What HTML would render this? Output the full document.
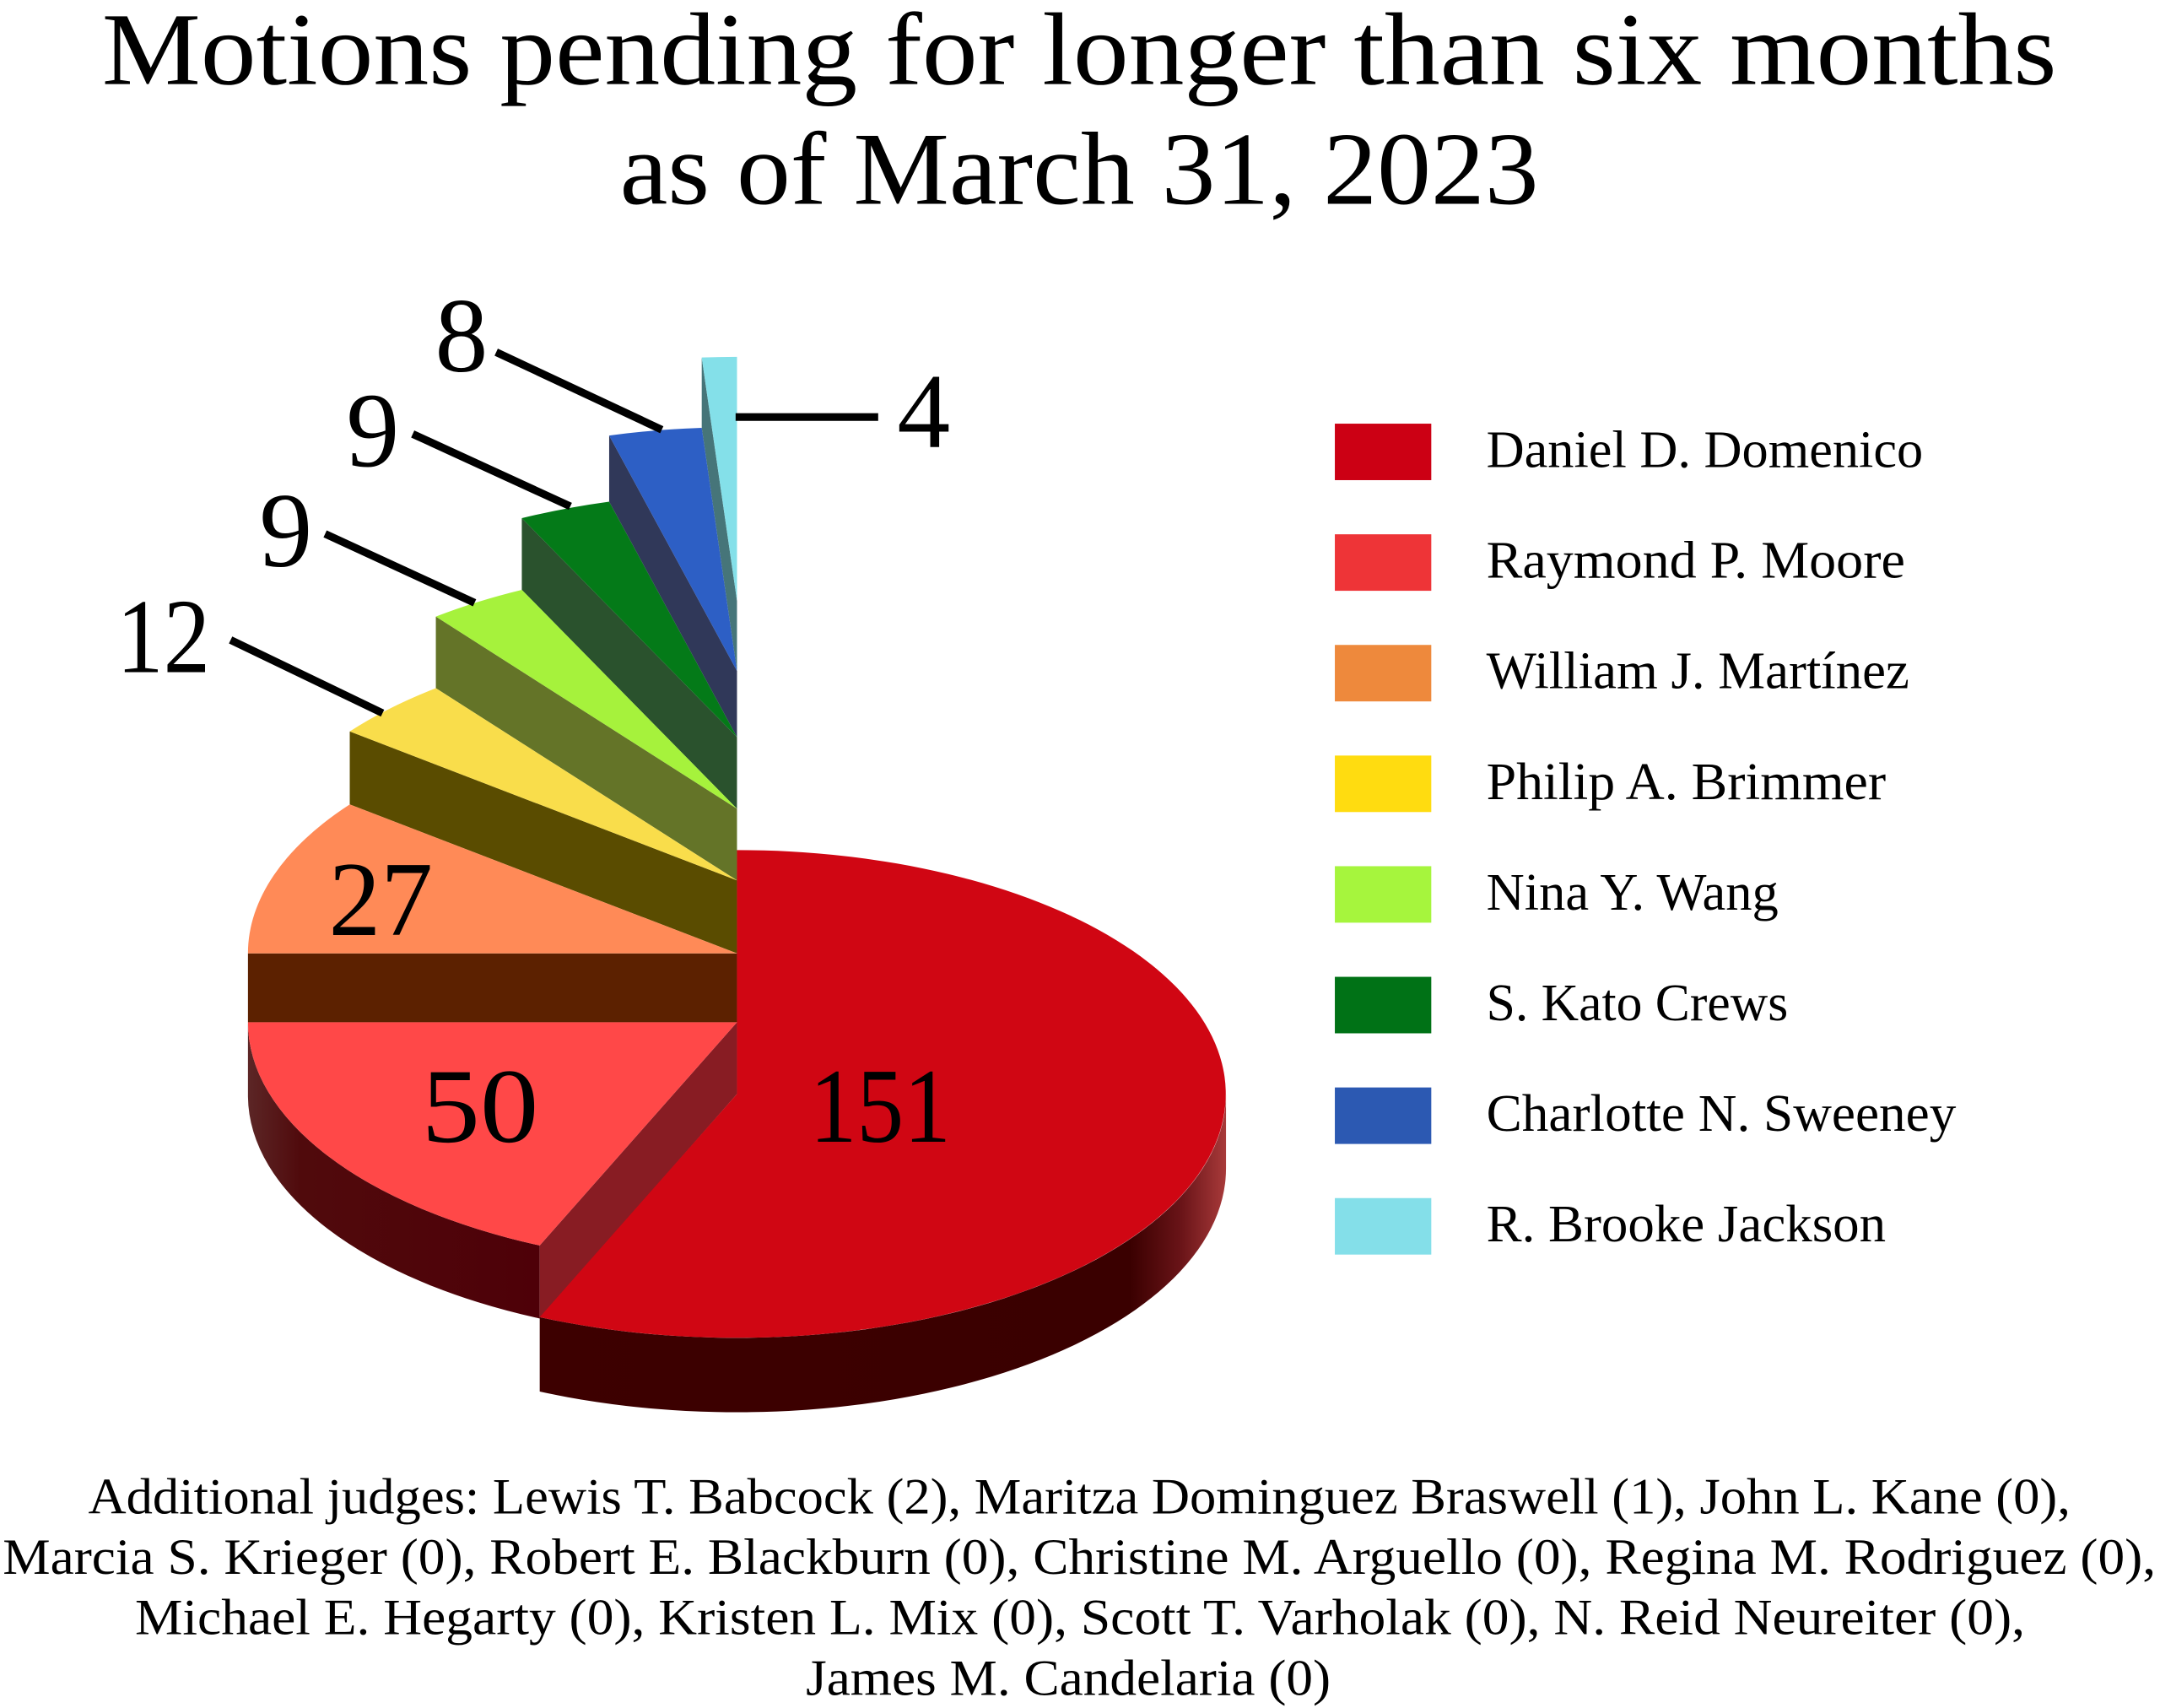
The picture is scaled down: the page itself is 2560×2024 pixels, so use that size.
<!DOCTYPE html>
<html>
<head>
<meta charset="utf-8">
<style>
html,body{margin:0;padding:0;background:#ffffff;}
svg{display:block;}
text{font-family:"Liberation Serif","DejaVu Serif",serif;fill:#000;}
</style>
</head>
<body>
<svg xmlns="http://www.w3.org/2000/svg" width="2560" height="2024" viewBox="0 0 1568 1239.7" preserveAspectRatio="none">
<defs>
  <linearGradient id="redSide" gradientUnits="userSpaceOnUse" x1="391.8" y1="0" x2="890" y2="0">
    <stop offset="0" stop-color="#3d0000"/>
    <stop offset="0.86" stop-color="#3a0000"/>
    <stop offset="0.935" stop-color="#6a1418"/>
    <stop offset="1" stop-color="#a83a3a"/>
  </linearGradient>
  <linearGradient id="mooreSide" gradientUnits="userSpaceOnUse" x1="180" y1="0" x2="391.8" y2="0">
    <stop offset="0" stop-color="#5c2626"/>
    <stop offset="0.18" stop-color="#500a0c"/>
    <stop offset="1" stop-color="#4e0008"/>
  </linearGradient>
</defs>

<rect x="0" y="0" width="1568" height="1239.7" fill="#ffffff"/>

<!-- Title -->
<text x="74" y="61" font-size="75" textLength="1419" lengthAdjust="spacingAndGlyphs">Motions pending for longer than six months</text>
<text x="450" y="148" font-size="75" textLength="667" lengthAdjust="spacingAndGlyphs">as of March 31, 2023</text>

<!-- Pie: Jackson -->
<path d="M535,436 L509.4,259.5 L509.4,310.5 L535,487 Z" fill="#467579"/>
<path d="M535,436 L509.4,259.5 A355,177 0 0,1 535,259 Z" fill="#84E0E9"/>
<!-- Sweeney -->
<path d="M535,487 L442.2,316.1 L442.2,364.1 L535,535 Z" fill="#303859"/>
<path d="M535,487 L442.2,316.1 A355,177 0 0,1 509.4,310.5 Z" fill="#2D5FC5"/>
<!-- Crews -->
<path d="M535,535 L378.8,376.1 L378.8,428.1 L535,587 Z" fill="#2A522D"/>
<path d="M535,535 L378.8,376.1 A355,177 0 0,1 442.2,364.1 Z" fill="#047A18"/>
<!-- Wang -->
<path d="M535,587 L316.4,447.5 L316.4,499.5 L535,639 Z" fill="#647428"/>
<path d="M535,587 L316.4,447.5 A355,177 0 0,1 378.8,428.1 Z" fill="#A6F23C"/>
<!-- Brimmer -->
<path d="M535,639 L253.9,530.9 L253.9,583.9 L535,692 Z" fill="#5A4C00"/>
<path d="M535,639 L253.9,530.9 A355,177 0 0,1 316.4,499.5 Z" fill="#F9DD4B"/>
<!-- Martinez -->
<rect x="180" y="692" width="355" height="50" fill="#5C2100"/>
<path d="M535,692 L180,692 A355,177 0 0,1 253.9,583.9 Z" fill="#FF8A57"/>
<!-- Moore -->
<path d="M391.8,904 A355,177 0 0,1 180,742 L180,796 A355,177 0 0,0 391.8,957 Z" fill="url(#mooreSide)"/>
<path d="M535,742 L391.8,904 L391.8,957 L535,794 Z" fill="#881C23"/>
<path d="M535,742 L391.8,904 A355,177 0 0,1 180,742 Z" fill="#FF4848"/>
<!-- Domenico -->
<path d="M890,794 A355,177 0 0,1 391.8,956 L391.8,1010 A355,177 0 0,0 890,848 Z" fill="url(#redSide)"/>
<path d="M535,794 L535,617 A355,177 0 1,1 391.8,956 Z" fill="#D00613"/>

<!-- Leader lines -->
<g stroke="#000" stroke-width="5.6" fill="none">
  <line x1="167.4" y1="464.5" x2="277.7" y2="517.6"/>
  <line x1="236" y1="387.5" x2="344.5" y2="437.5"/>
  <line x1="299.6" y1="315" x2="414" y2="367.5"/>
  <line x1="360.2" y1="255.6" x2="480.4" y2="311.9"/>
  <line x1="534" y1="302.7" x2="637.5" y2="302.7"/>
</g>

<!-- Value labels -->
<g font-size="77" text-anchor="middle">
  <text x="335" y="269.5">8</text>
  <text x="270.6" y="338.5">9</text>
  <text x="207.5" y="411">9</text>
  <text x="118.6" y="488" textLength="68" lengthAdjust="spacingAndGlyphs">12</text>
  <text x="670.6" y="324.4">4</text>
  <text x="276.4" y="678.6" textLength="75.6" lengthAdjust="spacingAndGlyphs">27</text>
  <text x="348.5" y="828.7" textLength="85" lengthAdjust="spacingAndGlyphs">50</text>
  <text x="639" y="828.7" textLength="102.5" lengthAdjust="spacingAndGlyphs">151</text>
</g>

<!-- Legend -->
<rect x="969" y="307.5" width="70" height="41" fill="#CC0014"/>
<rect x="969" y="387.8" width="70" height="41" fill="#EE3437"/>
<rect x="969" y="468.1" width="70" height="41" fill="#EE893C"/>
<rect x="969" y="548.4" width="70" height="41" fill="#FFDC10"/>
<rect x="969" y="628.7" width="70" height="41" fill="#A6F53D"/>
<rect x="969" y="709" width="70" height="41" fill="#007216"/>
<rect x="969" y="789.3" width="70" height="41" fill="#2C59B2"/>
<rect x="969" y="869.6" width="70" height="41" fill="#84DFE9"/>
<g font-size="38">
  <text x="1079" y="339" textLength="317" lengthAdjust="spacingAndGlyphs">Daniel D. Domenico</text>
  <text x="1079" y="419.3" textLength="304" lengthAdjust="spacingAndGlyphs">Raymond P. Moore</text>
  <text x="1079" y="499.6" textLength="307" lengthAdjust="spacingAndGlyphs">William J. Martínez</text>
  <text x="1079" y="579.9" textLength="290" lengthAdjust="spacingAndGlyphs">Philip A. Brimmer</text>
  <text x="1079" y="660.2" textLength="212" lengthAdjust="spacingAndGlyphs">Nina Y. Wang</text>
  <text x="1079" y="740.5" textLength="219" lengthAdjust="spacingAndGlyphs">S. Kato Crews</text>
  <text x="1079" y="820.8" textLength="341" lengthAdjust="spacingAndGlyphs">Charlotte N. Sweeney</text>
  <text x="1079" y="901.1" textLength="290" lengthAdjust="spacingAndGlyphs">R. Brooke Jackson</text>
</g>

<!-- Footnote -->
<g font-size="37">
  <text x="64" y="1098.5" textLength="1439" lengthAdjust="spacingAndGlyphs">Additional judges: Lewis T. Babcock (2), Maritza Dominguez Braswell (1), John L. Kane (0),</text>
  <text x="2" y="1142.3" textLength="1563" lengthAdjust="spacingAndGlyphs">Marcia S. Krieger (0), Robert E. Blackburn (0), Christine M. Arguello (0), Regina M. Rodriguez (0),</text>
  <text x="98" y="1186" textLength="1372" lengthAdjust="spacingAndGlyphs">Michael E. Hegarty (0), Kristen L. Mix (0), Scott T. Varholak (0), N. Reid Neureiter (0),</text>
  <text x="585" y="1230.3" textLength="381" lengthAdjust="spacingAndGlyphs">James M. Candelaria (0)</text>
</g>
</svg>
</body>
</html>
